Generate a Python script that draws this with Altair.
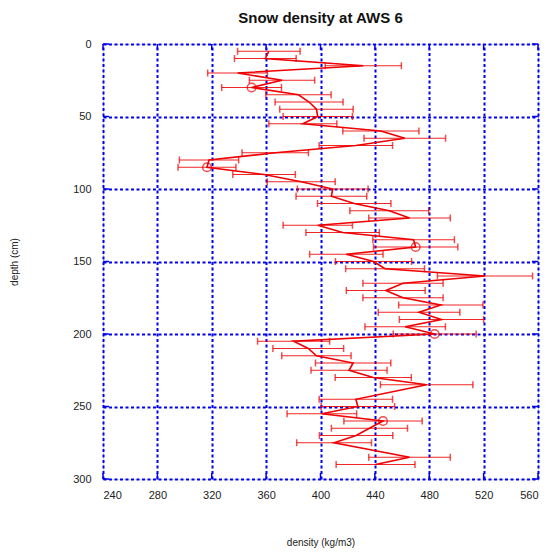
import altair as alt
import pandas as pd

depths = [5, 10, 15, 20, 25, 30, 35, 40, 45, 50, 55, 60, 65, 70, 75, 80, 85, 90, 95,
          100, 105, 110, 115, 120, 125, 130, 135, 140, 145, 150, 155, 160, 165, 170,
          175, 180, 185, 190, 195, 200, 205, 210, 215, 220, 225, 230, 235, 245, 250,
          255, 260, 265, 270, 275, 285, 290]
means = [362, 359.4, 431.5, 339, 371.7, 349.3, 383.8, 391.6, 397, 398, 387, 444.4, 462,
         426, 366.7, 318, 316.5, 358.5, 385.8, 409, 408, 424.8, 450.6, 465.5, 398, 416.3,
         468.5, 470, 419, 439, 447.5, 521, 460.7, 448, 460.7, 488.5, 472.5, 489, 462.3,
         484, 380.2, 391, 397, 424, 421, 438.8, 478.1, 426, 427.5, 401, 446, 436, 426.2,
         410, 465.5, 440.5]
errs = [23, 22.7, 28, 22, 24, 22, 24, 25, 27, 25.5, 25, 28, 30, 27, 24.4, 21.8, 21.3, 23,
        25, 26, 26, 27, 29, 30, 25.5, 27, 30, 31, 27, 28, 29, 35, 29.5, 29, 29.5, 31, 30,
        31, 29.6, 30.5, 26.5, 26, 25.5, 27.7, 28, 28, 34, 27, 27, 25.6, 28.8, 28, 27,
        27.5, 30, 29]
marker_depths = [30, 85, 140, 200, 260]
x_ticks = [240, 280, 320, 360, 400, 440, 480, 520, 560]
y_ticks = [0, 50, 100, 150, 200, 250, 300]

df = pd.DataFrame({"depth": depths, "density": means, "err": errs})
df["lo"] = df["density"] - df["err"]
df["hi"] = df["density"] + df["err"]
mk = df[df["depth"].isin(marker_depths)]

W, H = 435, 435
RED = "#ee0000"
BLUE = "#0000ee"

xs = alt.Scale(domain=[240, 560], nice=False, zero=False)
ys = alt.Scale(domain=[0, 300], reverse=True, nice=False, zero=False)

xax = alt.Axis(values=x_ticks, title="density (kg/m3)", grid=True, gridColor=BLUE,
               gridDash=[3, 2.5], gridWidth=2, gridOpacity=1, domain=False, ticks=False,
               labelPadding=10, labelFontSize=11, labelColor="#222", titleFontSize=10,
               titleFontWeight="normal", titlePadding=37, titleColor="#222")
yax = alt.Axis(values=y_ticks, title="depth (cm)", grid=True, gridColor=BLUE,
               gridDash=[3, 2.5], gridWidth=2, gridOpacity=1, domain=False, ticks=False,
               labelPadding=12, labelFontSize=11, labelColor="#222", titleFontSize=10,
               titleFontWeight="normal", titlePadding=53, titleColor="#222")

base = alt.Chart(df)

bars = base.mark_rule(color=RED, strokeWidth=1.2, opacity=0.85).encode(
    x=alt.X("lo:Q", scale=xs, axis=xax), x2="hi:Q",
    y=alt.Y("depth:Q", scale=ys, axis=yax))
cap_lo = base.mark_tick(color=RED, orient="vertical", size=7, thickness=1.5).encode(
    x=alt.X("lo:Q", scale=xs), y=alt.Y("depth:Q", scale=ys))
cap_hi = base.mark_tick(color=RED, orient="vertical", size=7, thickness=1.5).encode(
    x=alt.X("hi:Q", scale=xs), y=alt.Y("depth:Q", scale=ys))
line = base.mark_line(color=RED, strokeWidth=1.6).encode(
    x=alt.X("density:Q", scale=xs), y=alt.Y("depth:Q", scale=ys), order="depth:Q")
pts = alt.Chart(mk).mark_point(color=RED, shape="circle", size=75, strokeWidth=1.5,
                               filled=False).encode(
    x=alt.X("density:Q", scale=xs), y=alt.Y("depth:Q", scale=ys))

xt = pd.DataFrame({"v": x_ticks})
yt = pd.DataFrame({"v": y_ticks})
tick_b = alt.Chart(xt).mark_rule(color=BLUE, strokeWidth=1.5).encode(
    x=alt.X("v:Q", scale=xs), y=alt.value(H - 6), y2=alt.value(H))
tick_t = alt.Chart(xt).mark_rule(color=BLUE, strokeWidth=1.5).encode(
    x=alt.X("v:Q", scale=xs), y=alt.value(0), y2=alt.value(6))
tick_l = alt.Chart(yt).mark_rule(color=BLUE, strokeWidth=1.5).encode(
    y=alt.Y("v:Q", scale=ys), x=alt.value(0), x2=alt.value(6))
tick_r = alt.Chart(yt).mark_rule(color=BLUE, strokeWidth=1.5).encode(
    y=alt.Y("v:Q", scale=ys), x=alt.value(W - 6), x2=alt.value(W))

chart = alt.layer(bars, cap_lo, cap_hi, line, pts, tick_b, tick_t, tick_l, tick_r).properties(
    width=W, height=H,
    title=alt.TitleParams("Snow density at AWS 6", fontSize=15, fontWeight="bold",
                          font="Liberation Sans", color="#111", offset=12, anchor="middle"),
    autosize=alt.AutoSizeParams(type="none"),
    padding={"left": 95, "top": 36, "right": 9, "bottom": 69},
).configure_view(stroke=BLUE, strokeWidth=2).configure_axis(
    labelFont="Liberation Sans", titleFont="Liberation Sans"
).configure(background="white")

chart.save("out.html", embed_options={"renderer": "svg", "actions": False})
